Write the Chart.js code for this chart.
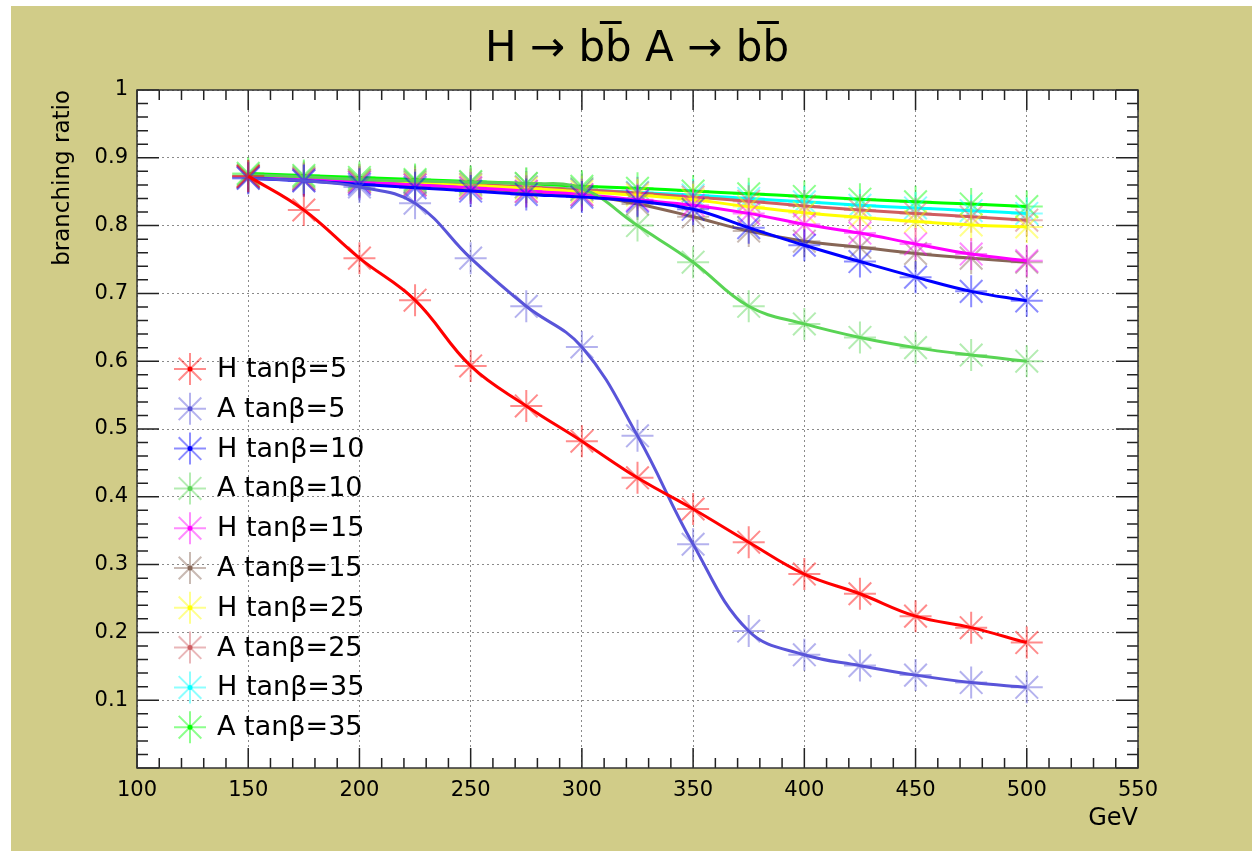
<!DOCTYPE html>
<html>
<head>
<meta charset="utf-8">
<script src="https://cdn.jsdelivr.net/npm/chart.js@4/dist/chart.umd.min.js"></script>
<style>
  html, body { margin: 0; padding: 0; background: #ffffff; }
  #wrap { position: absolute; left: 11px; top: 6px; width: 1241px; height: 845px; }
</style>
</head>
<body>
<div id="wrap"><canvas id="myChart"></canvas></div>
<script>
// masses (GeV)
const gev = [150, 175, 200, 225, 250, 275, 300, 325, 350, 375, 400, 425, 450, 475, 500]

// branching ratios
const hTan5  = [0.873, 0.823, 0.752, 0.690, 0.593, 0.534, 0.482, 0.428, 0.382, 0.333, 0.286, 0.257, 0.224, 0.207, 0.185]
const aTan5  = [0.870, 0.866, 0.857, 0.833, 0.752, 0.681, 0.621, 0.490, 0.330, 0.202, 0.167, 0.151, 0.137, 0.126, 0.119]
const hTan10 = [0.870, 0.866, 0.861, 0.856, 0.851, 0.846, 0.842, 0.836, 0.824, 0.797, 0.771, 0.747, 0.724, 0.703, 0.689]
const aTan10 = [0.875, 0.872, 0.868, 0.866, 0.864, 0.862, 0.855, 0.800, 0.746, 0.681, 0.655, 0.635, 0.620, 0.609, 0.600]
const hTan15 = [0.872, 0.868, 0.864, 0.860, 0.856, 0.851, 0.846, 0.838, 0.830, 0.818, 0.802, 0.789, 0.773, 0.758, 0.748]
const aTan15 = [0.872, 0.868, 0.864, 0.860, 0.855, 0.850, 0.845, 0.832, 0.813, 0.792, 0.777, 0.768, 0.759, 0.752, 0.746]
const hTan25 = [0.872, 0.869, 0.866, 0.862, 0.859, 0.855, 0.850, 0.845, 0.838, 0.828, 0.819, 0.812, 0.806, 0.801, 0.798]
const aTan25 = [0.873, 0.870, 0.867, 0.864, 0.861, 0.857, 0.853, 0.848, 0.842, 0.836, 0.829, 0.823, 0.818, 0.813, 0.808]
const hTan35 = [0.872, 0.869, 0.866, 0.863, 0.860, 0.857, 0.853, 0.849, 0.845, 0.840, 0.835, 0.830, 0.826, 0.822, 0.818]
const aTan35 = [0.877, 0.874, 0.871, 0.868, 0.865, 0.862, 0.858, 0.855, 0.851, 0.847, 0.843, 0.839, 0.835, 0.832, 0.828]

const labels = ['H tanβ=5', 'A tanβ=5', 'H tanβ=10', 'A tanβ=10', 'H tanβ=15',
                'A tanβ=15', 'H tanβ=25', 'A tanβ=25', 'H tanβ=35', 'A tanβ=35']
const series = [hTan5, aTan5, hTan10, aTan10, hTan15, aTan15, hTan25, aTan25, hTan35, aTan35]
const colors = [[255, 0, 0], [89, 84, 217], [0, 0, 255], [89, 212, 84], [255, 0, 255],
                [135, 102, 86], [255, 255, 0], [207, 94, 97], [0, 255, 255], [0, 255, 0]]

const xTicks = [100, 150, 200, 250, 300, 350, 400, 450, 500, 550]
const yTicks = [0.1, 0.2, 0.3, 0.4, 0.5, 0.6, 0.7, 0.8, 0.9, 1]
const titleText = 'H → bb̅ A → bb̅'

const rgb = (c, a) => 'rgba(' + c[0] + ',' + c[1] + ',' + c[2] + ',' + a + ')'
const FONT = 'DejaVu Sans'

const datasets = series.map((vals, i) => ({
  label: labels[i],
  data: vals.map((v, j) => ({ x: gev[j], y: v })),
  borderColor: rgb(colors[i], 1),
  backgroundColor: rgb(colors[i], 1),
  borderWidth: 3,
  tension: 0.4,
  pointStyle: 'star',
  pointRadius: 16,
  pointBorderWidth: 2,
  pointBorderColor: rgb(colors[i], 0.45),
  pointBackgroundColor: rgb(colors[i], 0.45),
  clip: false
}))

// olive canvas + white frame, ROOT-like inner ticks, frame, title and legend
const rootFrame = {
  id: 'rootFrame',
  beforeDraw(chart) {
    const { ctx, chartArea: a } = chart
    ctx.save()
    ctx.fillStyle = '#d1cc88'
    ctx.fillRect(0, 0, chart.width, chart.height)
    ctx.fillStyle = '#ffffff'
    ctx.fillRect(a.left, a.top, a.right - a.left, a.bottom - a.top)
    ctx.fillStyle = '#000'
    ctx.font = '42px "' + FONT + '"'
    ctx.textAlign = 'center'
    ctx.textBaseline = 'middle'
    ctx.fillText(titleText, 626, 44)
    ctx.restore()
  },
  beforeDatasetsDraw(chart) {
    const { ctx, chartArea: a, scales } = chart
    ctx.save()
    ctx.strokeStyle = '#222'
    ctx.lineWidth = 1.5
    ctx.beginPath()
    for (let v = 100; v <= 550.001; v += 10) {
      const px = scales.x.getPixelForValue(v)
      const len = Math.abs(v % 50) < 0.01 ? 20 : 10
      ctx.moveTo(px, a.bottom); ctx.lineTo(px, a.bottom - len)
      ctx.moveTo(px, a.top); ctx.lineTo(px, a.top + len)
    }
    for (let k = 0; k <= 50; k++) {
      const py = scales.y.getPixelForValue(k * 0.02)
      const len = k % 5 === 0 ? 22 : 11
      ctx.moveTo(a.left, py); ctx.lineTo(a.left + len, py)
      ctx.moveTo(a.right, py); ctx.lineTo(a.right - len, py)
    }
    ctx.stroke()
    ctx.strokeStyle = '#333'
    ctx.lineWidth = 1.5
    ctx.strokeRect(a.left, a.top, a.right - a.left, a.bottom - a.top)
    ctx.restore()
  },
  afterDatasetsDraw(chart) {
    const { ctx, chartArea: a } = chart
    ctx.save()
    ctx.font = '27px "' + FONT + '"'
    ctx.textBaseline = 'middle'
    ctx.fillStyle = '#000'
    chart.data.datasets.forEach((ds, i) => {
      const cx = a.left + 53
      const cy = a.top + 279 + i * 39.8
      const r = 16
      ctx.strokeStyle = ds.pointBorderColor
      ctx.lineWidth = 2
      ctx.beginPath()
      ctx.moveTo(cx - r, cy); ctx.lineTo(cx + r, cy)
      ctx.moveTo(cx, cy - r); ctx.lineTo(cx, cy + r)
      const d = r * Math.SQRT1_2
      ctx.moveTo(cx - d, cy - d); ctx.lineTo(cx + d, cy + d)
      ctx.moveTo(cx - d, cy + d); ctx.lineTo(cx + d, cy - d)
      ctx.stroke()
      ctx.fillStyle = ds.borderColor
      ctx.beginPath(); ctx.arc(cx, cy, 2.5, 0, Math.PI * 2); ctx.fill()
      ctx.fillStyle = '#000'
      ctx.fillText(ds.label, cx + 27, cy + 1)
    })
    ctx.restore()
  }
}

const config = {
  type: 'line',
  data: { datasets: datasets },
  options: {
    responsive: true,
    maintainAspectRatio: false,
    animation: false,
    layout: { padding: { left: 38, right: 114, top: 84, bottom: 0 } },
    plugins: {
      legend: { display: false },
      tooltip: { enabled: false },
      title: { display: false }
    },
    scales: {
      x: {
        type: 'linear',
        min: 100,
        max: 550,
        afterBuildTicks: (s) => { s.ticks = xTicks.map((v) => ({ value: v })) },
        afterFit: (s) => { s.height = 83 },
        grid: { color: '#8a8a8a', lineWidth: 1, drawTicks: false },
        border: { display: false, dash: [2, 3] },
        ticks: { color: '#000', padding: 10, maxRotation: 0, font: { family: FONT, size: 21 } },
        title: { display: true, text: 'GeV', align: 'end', color: '#000', padding: { top: 0, bottom: 18 },
                 font: { family: FONT, size: 24 } }
      },
      y: {
        min: 0,
        max: 1,
        afterBuildTicks: (s) => { s.ticks = yTicks.map((v) => ({ value: v })) },
        afterFit: (s) => { s.width = 88 },
        grid: { color: '#8a8a8a', lineWidth: 1, drawTicks: false },
        border: { display: false, dash: [2, 3] },
        ticks: { color: '#000', padding: 9, font: { family: FONT, size: 21 },
                 callback: (v) => String(+(+v).toFixed(1)) },
        title: { display: true, text: 'branching ratio', align: 'end', color: '#000', padding: 0,
                 font: { family: FONT, size: 23 } }
      }
    }
  },
  plugins: [rootFrame]
}

const myChart = new Chart(document.getElementById('myChart'), config)
</script>
</body>
</html>
